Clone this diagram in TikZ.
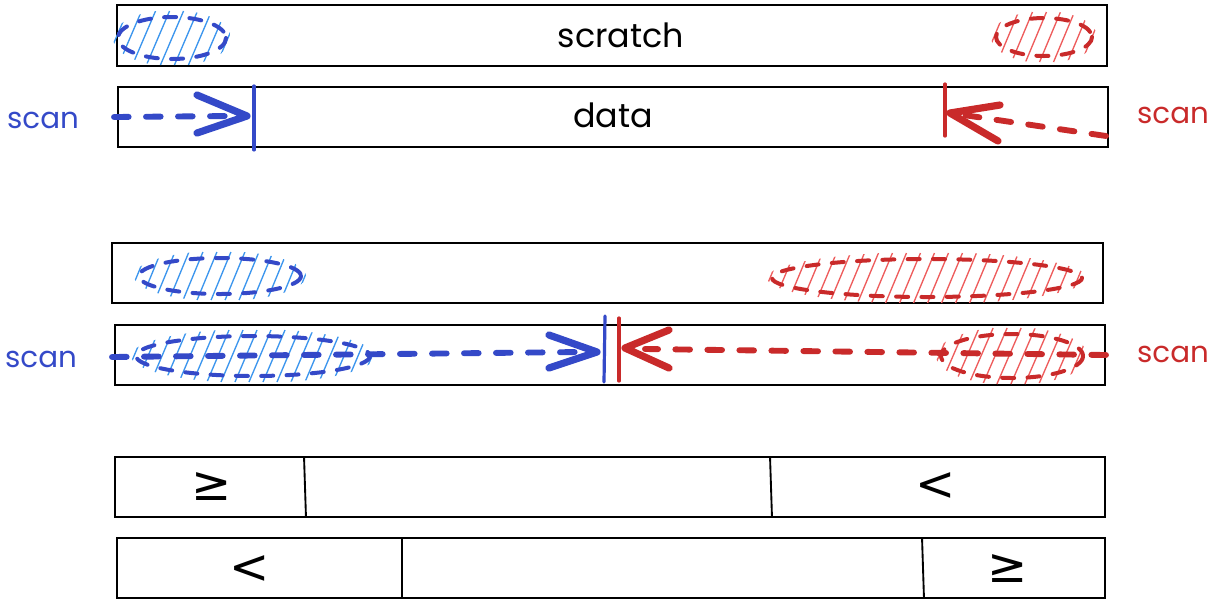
\documentclass[tikz,border=0pt]{standalone}
\usepackage{fontspec}
\setmainfont{Poppins}
\newfontfamily\symfont{DejaVu Sans}
\usetikzlibrary{calc,fit}

\definecolor{penblue}{RGB}{52,73,200}
\definecolor{penred}{RGB}{201,42,42}
\definecolor{hatchblue}{RGB}{60,150,238}
\definecolor{hatchred}{RGB}{238,92,92}

\tikzset{
  box/.style={draw=black, line width=1.4pt, inner sep=0pt, fill=white},
  label/.style={font=\fontsize{25}{29}\selectfont, inner sep=0pt},
  scanlabel/.style={font=\fontsize{22}{26}\selectfont, inner sep=0pt},
  rel/.style={font=\symfont\fontsize{36}{40}\selectfont, inner sep=0pt},
  scanpath/.style={line width=4.4pt, line cap=round, dash pattern=on 11pt off 13pt},
  chevron/.style={line width=5.4pt, line cap=round, line join=round},
  marker/.style={line width=2.4pt, line cap=round},
  rim/.style={line width=3pt, line cap=round, dash pattern=on 9pt off 10pt},
  hatch/.style={line width=1pt},
}

% hatched blob: centre x, centre y, x radius, y radius, rim colour, hatch colour
\newcommand\hatchblob[6]{%
  \begin{scope}
    \clip (#1,#2) ellipse ({#3+5} and {#4+7});
    \pgfmathtruncatemacro\nhatch{(2*#3+60)/14}
    \foreach \k in {0,...,\nhatch}
      \draw[hatch, #6] ({#1-#3-30+14*\k-#4*0.55}, {#2+#4+6}) -- ++({1.1*#4}, {-2*#4-12});
  \end{scope}
  \draw[rim, #5] (#1,#2) ellipse (#3 and #4);
}

\begin{document}
\begin{tikzpicture}[x=0.75pt, y=-0.75pt]
\useasboundingbox (0,0) rectangle (1213,601);

% ---------- first pair: scratch / data ----------
\node[box, fit={(117,5) (1107,66)}] (scratch) {};
\node[box, fit={(118,87) (1108,147)}] (data) {};
\node[label] (scratchtxt) at (621,35) {scratch};
\node[label] (datatxt) at (613,115) {data};

\hatchblob{172}{38}{54}{21}{penblue}{hatchblue}
\hatchblob{1044}{37}{48}{19}{penred}{hatchred}

\node[scanlabel, text=penblue] (scanL1) at (43,120) {scan};
\node[scanlabel, text=penred] (scanR1) at (1173,115) {scan};

\coordinate (bS1) at (114,117);
\coordinate (bT1) at (247,116);
\coordinate (bar1) at (254,86);
\coordinate (rS1) at (1106,136);
\coordinate (rT1) at (950,113);
\coordinate (rbar1) at (945,84);

\draw[marker, penblue] (bar1) -- ($(bar1 |- data.south)+(0,2)$);
\draw[scanpath, penblue] (bS1) -- ($(bT1)+(-14,0)$);
\draw[chevron, penblue] ($(bT1)+(-50,-21)$) -- (bT1) -- ($(bT1)+(-50,17)$);

\draw[marker, penred] (rbar1) -- ($(rbar1)+(0,52)$);
\draw[scanpath, penred] (rS1) -- ($(rT1)!0.1!(rS1)$);
\draw[chevron, penred] ($(rT1)+(50,-8)$) -- (rT1) -- ($(rT1)+(48,28)$);

% ---------- second pair ----------
\node[box, fit={(112,243) (1103,303)}] (top2) {};
\node[box, fit={(115,325) (1105,385)}] (bot2) {};

\hatchblob{220}{276}{81}{18}{penblue}{hatchblue}
\hatchblob{927}{278}{155}{19}{penred}{hatchred}
\hatchblob{253}{356}{117}{20}{penblue}{hatchblue}
\hatchblob{1012}{356}{71}{22}{penred}{hatchred}

\node[scanlabel, text=penblue] (scanL2) at (41,359) {scan};
\node[scanlabel, text=penred] (scanR2) at (1173,354) {scan};

\coordinate (bS2) at (112,357);
\coordinate (bT2) at (597,352);
\coordinate (bar2) at (605,316);
\coordinate (rS2) at (1106,355);
\coordinate (rT2) at (625,348);
\coordinate (rbar2) at (619,318);

\draw[marker, penblue] (bar2) -- ($(bar2)+(-1,66)$);
\draw[marker, penred] (rbar2) -- ($(rbar2)+(0,63)$);

\draw[scanpath, penblue] (bS2) -- ($(bT2)+(-16,0)$);
\draw[chevron, penblue] ($(bT2)+(-48,-17)$) -- (bT2) -- ($(bT2)+(-48,16)$);

\draw[scanpath, penred] (rS2) -- ($(rT2)+(20,1)$);
\draw[chevron, penred] ($(rT2)+(44,-18)$) -- (rT2) -- ($(rT2)+(44,20)$);

% ---------- resulting partitions ----------
\node[box, fit={(115,457) (1105,517)}] (part1) {};
\node[box, fit={(117,538) (1105,598)}] (part2) {};

\coordinate (d1a) at (304,0);
\coordinate (d1b) at (770,0);
\coordinate (d2a) at (402,0);
\coordinate (d2b) at (922,0);
\draw[line width=1.4pt] (d1a |- part1.north) -- ($(d1a |- part1.south)+(2,0)$);
\draw[line width=1.4pt] (d1b |- part1.north) -- ($(d1b |- part1.south)+(2,0)$);
\draw[line width=1.4pt] (d2a |- part2.north) -- (d2a |- part2.south);
\draw[line width=1.4pt] (d2b |- part2.north) -- ($(d2b |- part2.south)+(2,0)$);

\node[rel] (ge1) at (212,487) {≥};
\node[rel] (lt1) at (936,487) {<};
\node[rel] (lt2) at (250,570) {<};
\node[rel] (ge2) at (1008,569) {≥};
\end{tikzpicture}
\end{document}
